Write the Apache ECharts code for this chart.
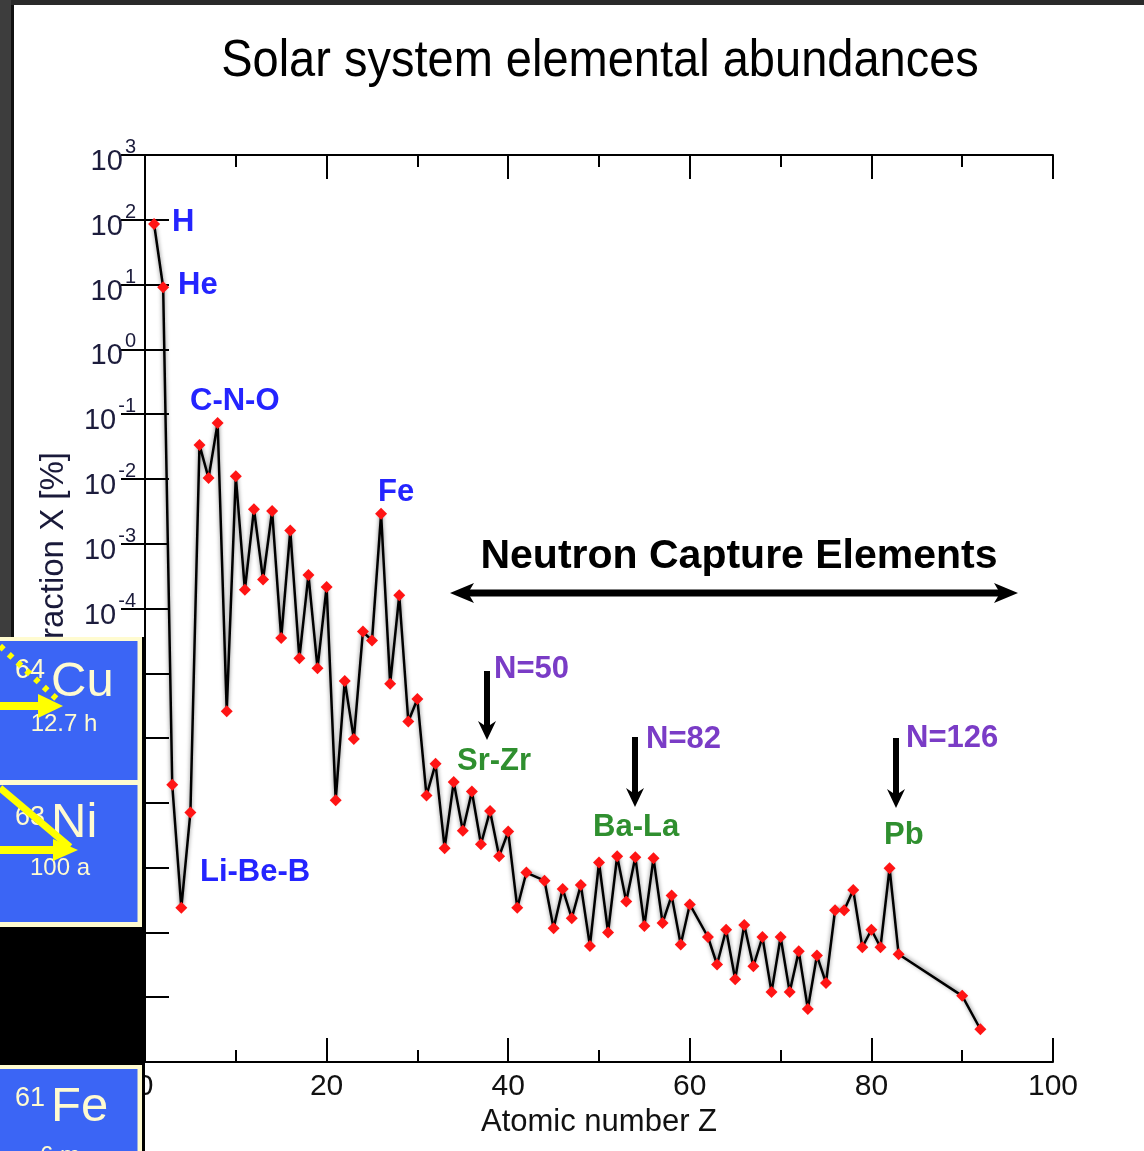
<!DOCTYPE html>
<html><head><meta charset="utf-8">
<script src="https://cdn.jsdelivr.net/npm/echarts@6/dist/echarts.min.js"></script>
<style>html,body{margin:0;padding:0;background:#fff;}#c{width:1144px;height:1151px;}</style>
</head><body><div id="c"></div>
<script>
// Atomic number Z (elements with no data are skipped: 43, 61, 84-89, 91)
const atomicNumber = [1,2,3,4,5,6,7,8,9,10,11,12,13,14,15,16,17,18,19,20,
  21,22,23,24,25,26,27,28,29,30,31,32,33,34,35,36,37,38,39,40,41,42,44,45,46,47,48,49,50,
  51,52,53,54,55,56,57,58,59,60,62,63,64,65,66,67,68,69,70,71,72,73,74,75,76,77,78,79,80,
  81,82,83,90,92];
// Mass fraction X [%]
const massFraction = [86,9.1,1.9e-7,2.4e-9,7.1e-8,3.35e-2,1.03e-2,7.3e-2,2.6e-6,1.1e-2,
  1.94e-4,3.4e-3,2.8e-4,3.2e-3,3.5e-5,1.6e-3,1.7e-5,3.3e-4,1.2e-5,2.15e-4,
  1.1e-7,7.6e-6,9.7e-7,4.4e-5,3.2e-5,2.9e-3,6.9e-6,1.6e-4,1.8e-6,4.0e-6,
  1.3e-7,4.0e-7,2.0e-8,2.1e-7,3.7e-8,1.5e-7,2.3e-8,7.5e-8,1.5e-8,3.6e-8,2.4e-9,8.4e-9,
  6.3e-9,1.16e-9,4.7e-9,1.66e-9,5.4e-9,6.2e-10,1.2e-8,
  1.0e-9,1.5e-8,3.0e-9,1.45e-8,1.26e-9,1.4e-8,1.4e-9,3.7e-9,6.5e-10,2.7e-9,
  8.5e-10,3.2e-10,1.1e-9,1.9e-10,1.3e-9,3.0e-10,8.5e-10,1.2e-10,8.5e-10,1.2e-10,
  5.1e-10,6.6e-11,4.4e-10,1.66e-10,2.2e-9,2.2e-9,4.5e-9,5.9e-10,1.1e-9,
  5.9e-10,9.8e-9,4.6e-10,1.05e-10,3.2e-11];
const xTickLabels = ['0','20','40','60','80','100'];
const yMinExp = -11, yMaxExp = 3;

const chart = echarts.init(document.getElementById('c'), null, {renderer:'canvas'});
const F = '"Liberation Sans", Arial, sans-serif';
const data = atomicNumber.map((z,i)=>[z, massFraction[i]]);
const axisCommon = {
  axisLine:{show:true, lineStyle:{color:'#000', width:2}},
  axisTick:{show:true, inside:true, length:24, lineStyle:{color:'#000', width:2}},
  splitLine:{show:false}
};
const xBase = Object.assign({type:'value', min:0, max:100, interval:20,
  minorTick:{show:true, splitNumber:2, length:12, lineStyle:{color:'#000', width:2}}}, axisCommon);
const yBase = Object.assign({type:'log', logBase:10, min:Math.pow(10,yMinExp), max:Math.pow(10,yMaxExp), interval:1}, axisCommon);

function txt(t, x, y, size, color, weight, align, extra){
  return Object.assign({type:'text', z:50, style:{text:t, x:x, y:y, fill:color,
    font:(weight||'normal')+' '+size+'px '+F, textAlign:align||'left', textVerticalAlign:'middle'}}, extra||{});
}
function downArrow(x, y0, y1){
  return [
    {type:'rect', z:50, shape:{x:x-3, y:y0, width:6, height:(y1-y0)-12}, style:{fill:'#000'}},
    {type:'polygon', z:50, shape:{points:[[x-9,y1-19],[x,y1-13],[x+9,y1-19],[x,y1]]}, style:{fill:'#000'}}
  ];
}
const cream = '#fffbd0', boxBlue = '#3b65f5', yel = '#ffff00';
const blue = '#2424ff', purple = '#7a3cc6', green = '#2f8f2f';
const graphics = [
  // title
  {type:'text', z:50, x:600, y:61, scaleY:1.12,
    style:{text:'Solar system elemental abundances', x:0, y:0, fill:'#000', font:'47px '+F, textAlign:'center', textVerticalAlign:'middle'}},
  // y axis name
  {type:'text', z:40, rotation:Math.PI/2, x:54, y:452,
    style:{text:'Mass fraction X [%]', x:0, y:0, fill:'#1a1a3a', font:'33px '+F, textAlign:'right', textVerticalAlign:'middle'}},
  // element labels
  txt('H', 172, 222, 31, blue, 'bold'),
  txt('He', 178, 285, 31, blue, 'bold'),
  txt('C-N-O', 190, 401, 31, blue, 'bold'),
  txt('Fe', 378, 492, 31, blue, 'bold'),
  txt('Li-Be-B', 200, 872, 31, blue, 'bold'),
  txt('Neutron Capture Elements', 739, 557, 41, '#000', 'bold', 'center'),
  txt('N=50', 494, 669, 31, purple, 'bold'),
  txt('N=82', 646, 739, 31, purple, 'bold'),
  txt('N=126', 906, 738, 31, purple, 'bold'),
  txt('Sr-Zr', 457, 761, 31, green, 'bold'),
  txt('Ba-La', 593, 827, 31, green, 'bold'),
  txt('Pb', 884, 835, 31, green, 'bold'),
  // double arrow
  {type:'rect', z:50, shape:{x:464, y:589.5, width:540, height:7}, style:{fill:'#000'}},
  {type:'polygon', z:50, shape:{points:[[450,593],[474,583],[468,593],[474,603]]}, style:{fill:'#000'}},
  {type:'polygon', z:50, shape:{points:[[1018,593],[994,583],[1000,593],[994,603]]}, style:{fill:'#000'}},
].concat(downArrow(487,671,740), downArrow(635,737,807), downArrow(896,738,808)).concat([
  // frame of the slide
  {type:'rect', z:200, shape:{x:0, y:0, width:1144, height:5}, style:{fill:'#2a2a2a'}},
  {type:'rect', z:200, shape:{x:0, y:0, width:11, height:640}, style:{fill:'#3d3d3d'}},
  {type:'rect', z:200, shape:{x:11, y:5, width:3, height:635}, style:{fill:'#111'}},
  // overlaid isotope boxes
  {type:'rect', z:200, shape:{x:0, y:637, width:145, height:514}, style:{fill:'#000'}},
  {type:'rect', z:201, shape:{x:0, y:637, width:142, height:148}, style:{fill:cream}},
  {type:'rect', z:202, shape:{x:0, y:641, width:137.5, height:139}, style:{fill:boxBlue}},
  {type:'rect', z:201, shape:{x:0, y:780, width:142, height:147}, style:{fill:cream}},
  {type:'rect', z:202, shape:{x:0, y:785, width:137.5, height:137}, style:{fill:boxBlue}},
  {type:'rect', z:201, shape:{x:0, y:1065, width:142, height:86}, style:{fill:cream}},
  {type:'rect', z:202, shape:{x:0, y:1069, width:137.5, height:82}, style:{fill:boxBlue}},
  // Cu
  {type:'text', z:203, style:{text:'64', x:15, y:671, fill:cream, font:'27px '+F, textVerticalAlign:'middle'}},
  {type:'text', z:203, style:{text:'Cu', x:51, y:682, fill:cream, font:'49px '+F, textVerticalAlign:'middle'}},
  {type:'text', z:203, style:{text:'12.7 h', x:64, y:724, fill:cream, font:'24px '+F, textAlign:'center', textVerticalAlign:'middle'}},
  // Ni
  {type:'text', z:203, style:{text:'63', x:15, y:818, fill:cream, font:'27px '+F, textVerticalAlign:'middle'}},
  {type:'text', z:203, style:{text:'Ni', x:51, y:823, fill:cream, font:'49px '+F, textVerticalAlign:'middle'}},
  {type:'text', z:203, style:{text:'100 a', x:60, y:868, fill:cream, font:'24px '+F, textAlign:'center', textVerticalAlign:'middle'}},
  // Fe
  {type:'text', z:203, style:{text:'61', x:15, y:1099, fill:cream, font:'27px '+F, textVerticalAlign:'middle'}},
  {type:'text', z:203, style:{text:'Fe', x:51, y:1107, fill:cream, font:'49px '+F, textVerticalAlign:'middle'}},
  {type:'text', z:203, style:{text:'6 m', x:60, y:1156, fill:cream, font:'24px '+F, textAlign:'center', textVerticalAlign:'middle'}},
  // yellow arrows
  {type:'rect', z:204, shape:{x:0, y:702, width:42, height:8}, style:{fill:yel}},
  {type:'polygon', z:204, shape:{points:[[38,694],[63,706],[38,718]]}, style:{fill:yel}},
  {type:'line', z:204, shape:{x1:0, y1:646, x2:60, y2:702}, style:{stroke:yel, lineWidth:6, lineDash:[5,7]}},
  {type:'line', z:204, shape:{x1:0, y1:788, x2:70, y2:847}, style:{stroke:yel, lineWidth:7}},
  {type:'rect', z:204, shape:{x:0, y:846, width:56, height:8}, style:{fill:yel}},
  {type:'polygon', z:204, shape:{points:[[53,839],[78,850],[53,861]]}, style:{fill:yel}}
]);

const tickColor = '#1c1c3c';
chart.setOption({
  animation:false,
  backgroundColor:'#fff',
  grid:{left:145, top:155, width:908, height:907, containLabel:false},
  xAxis:[
    Object.assign({}, xBase, {position:'bottom',
      axisLabel:{show:true, margin:10, color:'#111', fontSize:30, fontFamily:F,
        formatter:(v)=>{const i = xTickLabels.indexOf(String(v)); return i>=0 ? xTickLabels[i] : '';}},
      name:'Atomic number Z', nameLocation:'middle', nameGap:43,
      nameTextStyle:{color:'#111', fontSize:31, fontFamily:F}}),
    Object.assign({}, xBase, {position:'top', axisLabel:{show:false}})
  ],
  yAxis:[
    Object.assign({}, yBase, {position:'left',
      axisLabel:{show:true, margin:9, color:tickColor, fontFamily:F,
        formatter:(v)=>{const e = Math.round(Math.log10(v)); return '{b|10}{s|'+e+'}';},
        rich:{b:{fontSize:29, fontFamily:F, color:tickColor, padding:[14,0,0,0]},
              s:{fontSize:20, fontFamily:F, color:tickColor, padding:[0,0,15,2]}}}}),
    Object.assign({}, yBase, {position:'right', axisLabel:{show:false}})
  ],
  series:[{
    type:'line', data:data, xAxisIndex:0, yAxisIndex:0,
    symbol:'diamond', symbolSize:12,
    itemStyle:{color:'#ff1414'},
    lineStyle:{color:'#000', width:2.5, shadowColor:'rgba(0,0,0,0.5)', shadowBlur:4, shadowOffsetY:-1},
    z:10
  }],
  graphic:graphics
});
</script></body></html>
